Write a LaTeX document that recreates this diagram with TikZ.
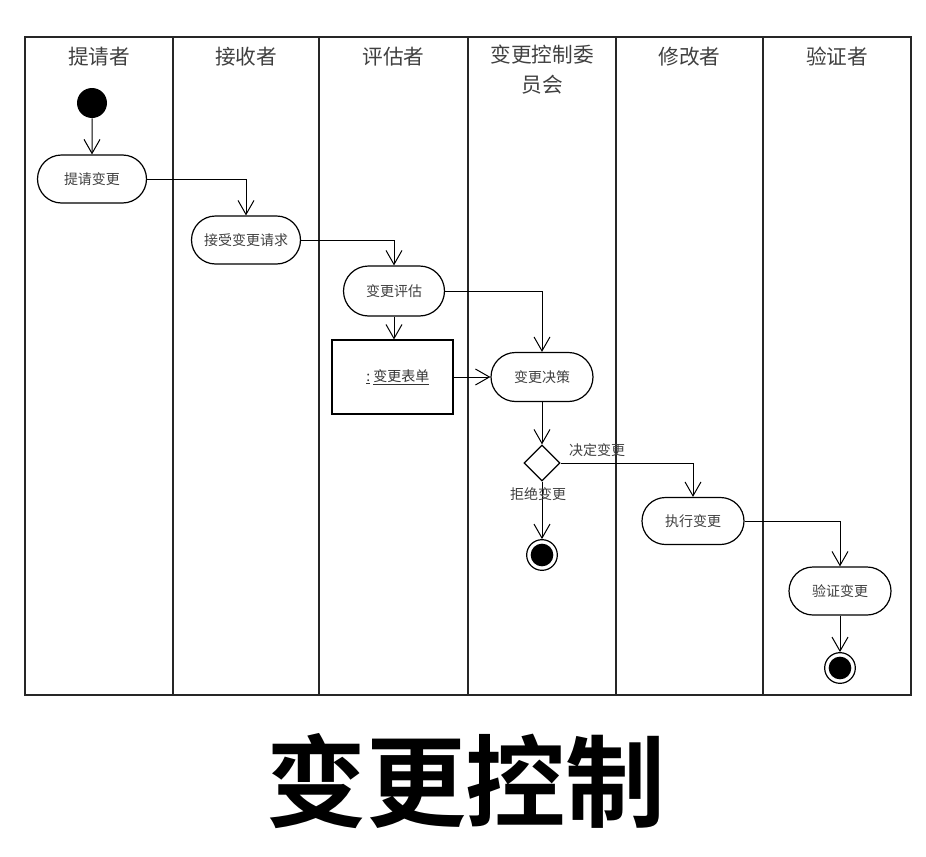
\documentclass[tikz,border=0pt]{standalone}
\usepackage{fontspec}
\setmainfont{Liberation Serif}
\newfontfamily\cjk[BoldFont={Noto Sans CJK SC Bold}]{Noto Sans CJK SC}
\usetikzlibrary{arrows.meta,shapes.misc,shapes.geometric}
\begin{document}
\begin{tikzpicture}[x=0.75pt,y=-0.75pt,
  lane/.style={line width=0.9pt, draw=black!85},
  lanethick/.style={line width=1.5pt, draw=black!85},
  hdr/.style={font=\cjk\fontsize{15.5pt}{22.5pt}\selectfont, text=black!75, align=center, anchor=north},
  act/.style={rounded rectangle, draw, line width=0.9pt, minimum width=109*0.75pt, minimum height=48*0.75pt, inner sep=0pt, font=\cjk\fontsize{10.5pt}{12pt}\selectfont, text=black!75},
  obj/.style={rectangle, draw, line width=0.8pt, minimum width=121*0.75pt, minimum height=74*0.75pt, inner sep=0pt, font=\cjk\fontsize{10.5pt}{12pt}\selectfont, text=black!80},
  arr/.style={-{Straight Barb[length=10.5pt,width=12pt]}, line width=0.75pt},
  lbl/.style={font=\cjk\fontsize{10.5pt}{12pt}\selectfont, text=black!75, inner sep=0pt},
  startnode/.style={circle, fill=black, minimum size=22.5pt, inner sep=0pt},
  endnode/.style={circle, draw, line width=0.9pt, minimum size=23pt, inner sep=0pt},
  decision/.style={diamond, draw, line width=0.9pt, minimum width=27pt, minimum height=27pt, inner sep=0pt}
]
\useasboundingbox (0,0) rectangle (926,857);
% frame and lanes
\draw[lane] (25,37) rectangle (911,695);
\draw[lane] (173,37) -- (173,695);
\draw[lane] (319,37) -- (319,695);
\draw[lanethick] (468,37) -- (468,695);
\draw[lanethick] (616,37) -- (616,695);
\draw[lane] (763,37) -- (763,695);
% headers
\node[hdr] (h1) at (99,42) {提请者};
\node[hdr] (h2) at (246,42) {接收者};
\node[hdr] (h3) at (393.5,42) {评估者};
\node[hdr] (h4) at (542,40) {变更控制委\\员会};
\node[hdr] (h5) at (689.5,42) {修改者};
\node[hdr] (h6) at (837,42) {验证者};
% nodes
\node[startnode] (start) at (92,103) {};
\node[act] (a1) at (92,179) {提请变更};
\node[act] (a2) at (246,240) {接受变更请求};
\node[act, minimum width=101*0.75pt, minimum height=50*0.75pt] (a3) at (394,291) {变更评估};
\node[obj] (form) at (392.5,377) {\hspace*{8pt}\underline{:}\ \underline{变更表单}};
\node[act, minimum width=102*0.75pt, minimum height=49*0.75pt] (a4) at (542,377) {变更决策};
\node[decision] (dec) at (542,463) {};
\node[act, minimum width=102*0.75pt, minimum height=47*0.75pt] (a5) at (693,521) {执行变更};
\node[act, minimum width=102*0.75pt, minimum height=48*0.75pt] (a6) at (840,591) {验证变更};
\node[endnode] (end1) at (542,555) {};
\fill (end1.center) circle (8.5pt);
\node[endnode] (end2) at (840,668) {};
\fill (end2.center) circle (8.5pt);
% connectors
\draw[arr] (start) -- (a1);
\draw[arr] (a1.east) -| (a2.north);
\draw[arr] (a2.east) -| (a3.north);
\draw[arr] (a3.south) -- (a3.south |- form.north);
\draw[arr] (a3.east) -| (a4.north);
\draw[arr] (form.east) -- (a4.west);
\draw[arr] (a4.south) -- (dec.north);
\draw[arr] (dec.east) -| (a5.north);
\draw[arr] (dec.south) -- (end1.north);
\draw[arr] (a5.east) -| (a6.north);
\draw[arr] (a6.south) -- (end2.north);
% labels
\node[lbl] (l1) at (597,450) {决定变更};
\node[lbl] (l2) at (538,494) {拒绝变更};
% title
\node[font=\cjk\bfseries\fontsize{75pt}{80pt}\selectfont] (title) at (466,781) {变更控制};
\end{tikzpicture}
\end{document}
